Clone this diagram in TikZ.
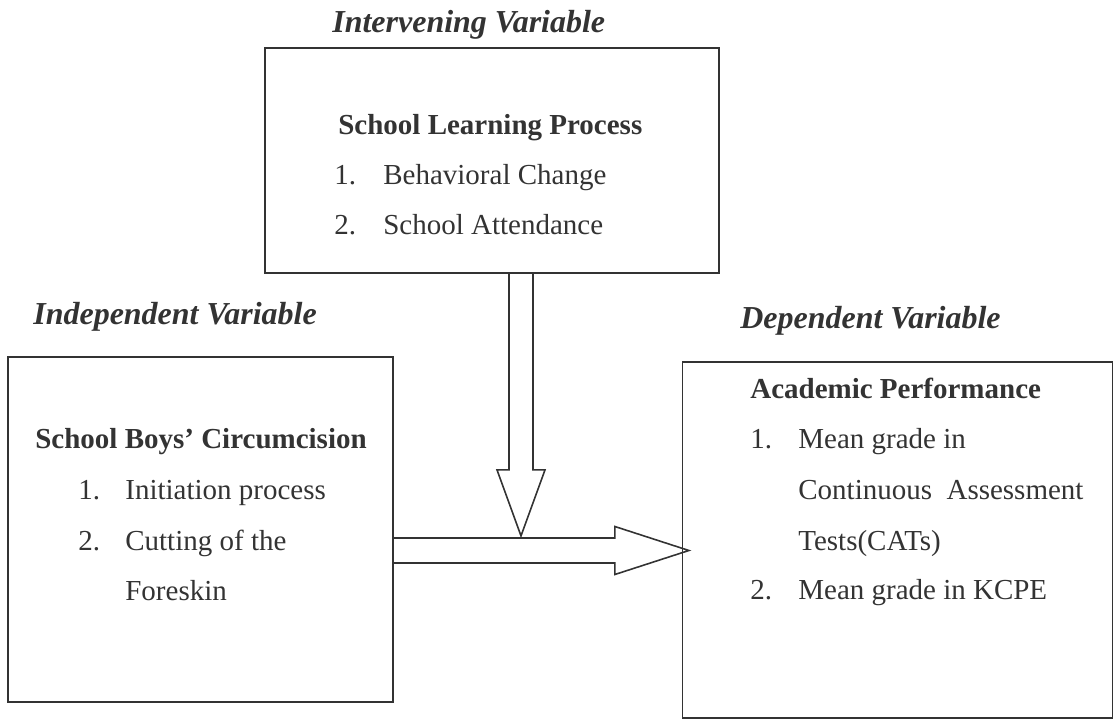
\documentclass[tikz,border=0pt]{standalone}
\usepackage{fontspec}
\setmainfont{Liberation Serif}
\usetikzlibrary{positioning,calc}

\definecolor{tinta}{gray}{0.2}

\tikzset{
  estilo marco/.style={
      caja/.style={draw=tinta, line width=1pt, inner sep=0pt},
      cabecera/.style={anchor=base west, inner sep=0pt, text=tinta,
          font={\fontsize{18.2}{22}\selectfont\bfseries\itshape}},
      titulo/.style={anchor=base west, inner sep=0pt, text=tinta,
          font={\fontsize{16.5}{20}\selectfont\bfseries}},
      linea/.style={anchor=base west, inner sep=0pt, text=tinta,
          font={\fontsize{16.5}{20}\selectfont}},
      bloque/.style={draw=tinta, line width=0.9pt, line join=miter},
    },
}

\begin{document}
\begin{tikzpicture}[estilo marco]
    \useasboundingbox (0,0) rectangle (22.3,14.42);

    % cajas
    \node[caja, minimum width=9.08cm, minimum height=4.5cm] (proc) at (9.84,11.21) {};
    \node[caja, minimum width=7.7cm, minimum height=6.9cm] (izq) at (4.01,3.83) {};
    \node[caja, minimum width=8.6cm, minimum height=7.12cm] (der) at (17.95,3.62) {};

    % cabeceras
    \node[cabecera] (interv) at (6.64,13.76) {Intervening Variable};
    \node[cabecera] (indep) at (0.66,7.92) {Independent Variable};
    \node[cabecera] (dep) at (14.8,7.86) {Dependent Variable};

    % caja de arriba
    \node[titulo] (proc-t) at (6.76,11.72) {School Learning Process};
    \node[linea] (proc-n1) at (6.68,10.72) {1.};
    \node[linea] (proc-1) at (7.66,10.72) {Behavioral Change};
    \node[linea] (proc-n2) at (6.68,9.72) {2.};
    \node[linea] (proc-2) at (7.66,9.72) {School Attendance};

    % caja izquierda
    \node[titulo] (izq-t) at (0.7,5.46) {School Boys’ Circumcision};
    \node[linea] (izq-n1) at (1.56,4.44) {1.};
    \node[linea] (izq-1) at (2.5,4.44) {Initiation process};
    \node[linea] (izq-n2) at (1.56,3.42) {2.};
    \node[linea] (izq-2) at (2.5,3.42) {Cutting of the};
    \node[linea] (izq-3) at (2.5,2.42) {Foreskin};

    % caja derecha
    \node[titulo] (der-t) at (15.0,6.44) {Academic Performance};
    \node[linea] (der-n1) at (15.0,5.46) {1.};
    \node[linea] (der-1) at (15.96,5.46) {Mean grade in};
    \node[linea] (der-2) at (15.96,4.44) {Continuous\ \ Assessment};
    \node[linea] (der-3) at (15.96,3.42) {Tests(CATs)};
    \node[linea] (der-n2) at (15.0,2.44) {2.};
    \node[linea] (der-4) at (15.96,2.44) {Mean grade in KCPE};

    % flechas
    \coordinate (arriba) at (proc.south -| 10.42,0);
    \coordinate (cola) at (izq.east |- 0,3.41);
    \draw[bloque] (arriba) ++(-0.24,0) -- ++(0,-3.92) -- ++(-0.24,0)
      -- ++(0.48,-1.32) -- ++(0.48,1.32) -- ++(-0.24,0) -- ++(0,3.92);
    \draw[bloque] (cola) ++(0,0.25) -- ++(4.42,0) -- ++(0,0.23)
      -- ++(1.48,-0.48) -- ++(-1.48,-0.48) -- ++(0,0.23) -- ++(-4.42,0);
\end{tikzpicture}
\end{document}
